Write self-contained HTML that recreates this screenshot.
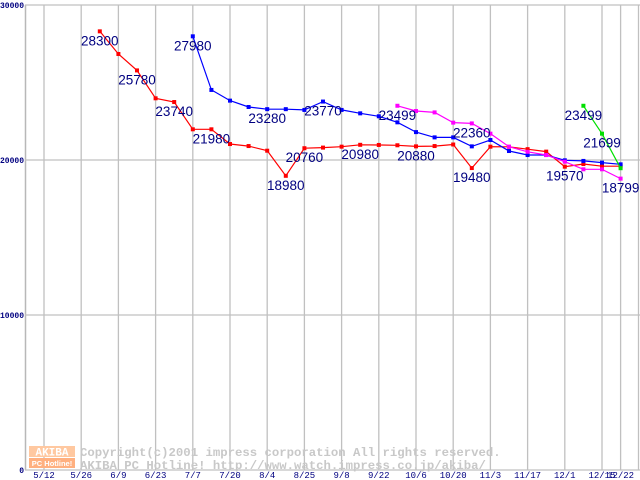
<!DOCTYPE html>
<html><head><meta charset="utf-8"><style>
html,body{margin:0;padding:0;background:#fff;}
svg{display:block;}
</style></head><body>
<svg id="chart" width="640" height="480" xmlns="http://www.w3.org/2000/svg" font-family="Liberation Sans, sans-serif"></svg>
<script>
const xLabels = ["5/12","5/26","6/9","6/23","7/7","7/20","8/4","8/25","9/8","9/22","10/6","10/20","11/3","11/17","12/1","12/15","12/22"];
const yTicks = [0,10000,20000,30000];
const redStart = 3;
const redValues = [28300,26840,25780,23980,23740,21980,21980,21030,20900,20600,18980,20760,20800,20860,20980,20970,20950,20880,20900,21000,19480,20860,20850,20700,20540,19570,19740,19600,19600];
const blueStart = 8;
const blueValues = [27980,24520,23830,23420,23280,23280,23230,23770,23230,23010,22820,22430,21800,21460,21460,20880,21290,20580,20320,20320,19980,19940,19830,19720];
const magentaStart = 19;
const magentaValues = [23499,23160,23070,22410,22360,21700,20860,20530,20320,19890,19400,19400,18799];
const greenStart = 29;
const greenValues = [23499,21699,19470];
const redLabels = [[3,28300],[5,25780],[7,23740],[9,21980],[13,18980],[14,20760],[17,20980],[20,20880],[23,19480],[28,19570]];
const blueLabels = [[8,27980],[12,23280],[15,23770]];
const magentaLabels = [[19,23499],[23,22360],[31,18799]];
const greenLabels = [[29,23499],[30,21699]];

const svg = document.getElementById('chart');
const NS = 'http://www.w3.org/2000/svg';
const x0 = 44, step = 18.6;
function xPos(k){ return x0 + k*step; }
function yPos(v){ return 470 - v/30000*465; }
function mk(tag, attrs, parent){
  const e = document.createElementNS(NS, tag);
  for (const k in attrs) e.setAttribute(k, attrs[k]);
  (parent||svg).appendChild(e);
  return e;
}
// grid
const grid = mk('g', {});


mk('line', {x1:25.5,y1:5,x2:25.5,y2:470,stroke:'#b8b8b8','stroke-width':1.5}, grid);
xLabels.forEach((l,i)=>{
  const x = i < 16 ? xPos(i*2) : xPos(31);
  mk('line', {x1:x,y1:5,x2:x,y2:470,stroke:'#c0c0c0','stroke-width':1.3}, grid);
});
mk('line', {x1:638.5,y1:5,x2:638.5,y2:470,stroke:'#c0c0c0','stroke-width':1.3}, grid);
yTicks.forEach(v=>{
  const y = yPos(v);
  mk('line', {x1:25,y1:y,x2:640,y2:y,stroke:'#c0c0c0','stroke-width':1.3}, grid);
  const t = mk('text', {x:24,y:y+3,'text-anchor':'end','font-family':'Liberation Mono, monospace','font-size':8,'font-weight':'bold',fill:'#000080'});
  
  
  t.textContent = v;
});
xLabels.forEach((l,i)=>{
  const x = i < 16 ? xPos(i*2) : xPos(31);
  const t = mk('text', {x:x,y:478,'text-anchor':'middle','font-family':'Liberation Mono, monospace','font-size':9,fill:'#000080'});
  
  
  t.textContent = l;
});
// watermark
const wm = mk('g', {});


mk('rect', {x:29,y:446,width:46,height:11,fill:'#ffc8a0'}, wm);
mk('rect', {x:29,y:458,width:46,height:10,fill:'#ffb080'}, wm);
const a1 = mk('text', {x:52,y:455.5,'text-anchor':'middle','font-family':'Liberation Mono, monospace','font-size':11,'font-weight':'bold',fill:'#fff'}, wm); a1.textContent='AKIBA';
const a2 = mk('text', {x:52,y:466,'text-anchor':'middle','font-family':'Liberation Sans, sans-serif','font-size':7.5,'font-weight':'bold',fill:'#fff'}, wm); a2.textContent='PC Hotline!';
const c1 = mk('text', {x:80,y:456,'font-family':'Liberation Mono, monospace','font-size':12.3,'font-weight':'bold',fill:'#c8c8c8'}, wm); c1.textContent='Copyright(c)2001 impress corporation All rights reserved.';
const c2 = mk('text', {x:80,y:469,'font-family':'Liberation Mono, monospace','font-size':12.3,'font-weight':'bold',fill:'#c8c8c8'}, wm); c2.textContent='AKIBA PC Hotline!  http://www.watch.impress.co.jp/akiba/';

function series(name, start, vals, color){
  const g = mk('g', {});
  
  
  const pts = vals.map((v,i)=>xPos(start+i).toFixed(1)+','+yPos(v).toFixed(1)).join(' ');
  mk('polyline', {points:pts,fill:'none',stroke:color,'stroke-width':1.2}, g);
  vals.forEach((v,i)=>{
    const r = mk('rect', {x:xPos(start+i)-2,y:yPos(v)-2,width:4,height:4,fill:color}, g);
    
    
  });
  return g;
}
function labels(start, vals, list){
  list.forEach(([k,txt])=>{
    const v = vals[k-start];
    const t = mk('text', {x:xPos(k),y:yPos(v)+14,'text-anchor':'middle','font-size':13.5,fill:'#000080'});
    
    
    t.textContent = txt;
  });
}
series('series-red', redStart, redValues, '#ff0000');
series('series-blue', blueStart, blueValues, '#0000ff');
series('series-magenta', magentaStart, magentaValues, '#ff00ff');
series('series-green', greenStart, greenValues, '#00e000');
labels(redStart, redValues, redLabels);
labels(blueStart, blueValues, blueLabels);
labels(magentaStart, magentaValues, magentaLabels);
labels(greenStart, greenValues, greenLabels);
</script>
</body></html>
